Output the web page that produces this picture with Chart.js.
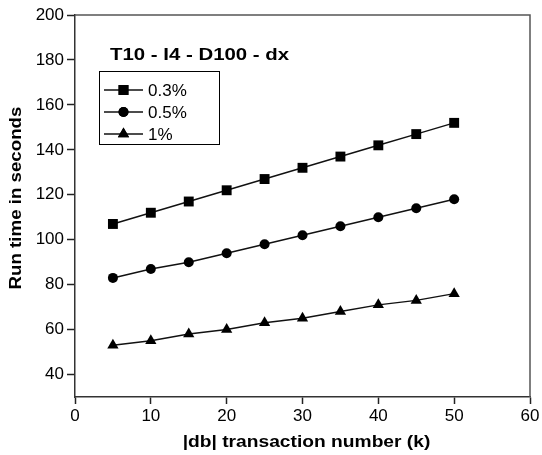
<!DOCTYPE html>
<html lang="en">
<head>
    <meta charset="UTF-8">
    <title>Run time vs transaction number</title>
    <style>
        html, body {
            margin: 0;
            padding: 0;
            background: #fff;
        }
        #wrap {
            position: relative;
            width: 542px;
            height: 455px;
        }
    </style>
    <script src="https://cdn.jsdelivr.net/npm/chart.js"></script>
</head>
<body>

<div id="wrap">
    <canvas id="runtime"></canvas>
</div>

<script>
// transaction number (k)
const xValues = [5, 10, 15, 20, 25, 30, 35, 40, 45, 50];
// run time in seconds per minimum support
const sup03 = [107, 112, 117, 122, 127, 132, 137, 142, 147, 152];
const sup05 = [83, 87, 90, 94, 98, 102, 106, 110, 114, 118];
const sup1 = [53, 55, 58, 60, 63, 65, 68, 71, 73, 76];
const seriesNames = ["0.3%", "0.5%", "1%"];
const yTickValues = [40, 60, 80, 100, 120, 140, 160, 180, 200];

const FONT = "'Liberation Sans', Arial, Helvetica, sans-serif";
const pointShapes = ["rect", "circle", "triangle"];
const pointSizes = [7, 5, 6.5];

function toPoints(values) {
    return values.map((v, i) => ({ x: xValues[i], y: v }));
}

function makeDataset(name, values, idx) {
    return {
        label: name,
        data: toPoints(values),
        borderColor: "#111",
        backgroundColor: "#000",
        borderWidth: 1.5,
        pointStyle: pointShapes[idx],
        pointRadius: pointSizes[idx],
        pointBorderWidth: 0,
        pointBackgroundColor: "#000",
        tension: 0
    };
}

// bold labels in the original are a bit wider than Arial bold, so stretch them
function wideText(ctx, text, x, y, stretch) {
    ctx.save();
    ctx.translate(x, y);
    ctx.scale(stretch, 1);
    ctx.fillText(text, 0, 0);
    ctx.restore();
}

// frame, in-plot title, legend and axis titles
const decorations = {
    id: "decorations",
    afterDraw(chart) {
        const ctx = chart.ctx;
        const a = chart.chartArea;
        ctx.save();

        // top/right frame
        ctx.strokeStyle = "#555";
        ctx.lineWidth = 1.5;
        ctx.beginPath();
        ctx.moveTo(a.left, a.top);
        ctx.lineTo(a.right, a.top);
        ctx.lineTo(a.right, a.bottom);
        ctx.stroke();

        // heading inside the plot
        ctx.fillStyle = "#000";
        ctx.font = "bold 17px " + FONT;
        ctx.textBaseline = "middle";
        ctx.textAlign = "left";
        wideText(ctx, "T10 - I4 - D100 - dx", 110, 55, 1.2);

        // legend box
        ctx.strokeStyle = "#000";
        ctx.lineWidth = 1;
        ctx.strokeRect(99.5, 71.5, 120, 73);
        const rows = [90, 112, 134];
        chart.data.datasets.forEach((ds, i) => {
            const y = rows[i];
            ctx.strokeStyle = "#111";
            ctx.lineWidth = 1.5;
            ctx.beginPath();
            ctx.moveTo(104, y);
            ctx.lineTo(143, y);
            ctx.stroke();
            ctx.fillStyle = "#000";
            Chart.helpers.drawPoint(ctx, {
                pointStyle: ds.pointStyle,
                radius: ds.pointRadius,
                borderWidth: 0
            }, 123.5, y);
            ctx.fill();
            ctx.font = "17px " + FONT;
            ctx.fillText(ds.label, 148, y + 1);
        });

        // axis titles
        ctx.font = "bold 17px " + FONT;
        ctx.textAlign = "center";
        wideText(ctx, "|db| transaction number (k)", 306.5, 442, 1.13);
        ctx.translate(16, 198);
        ctx.rotate(-Math.PI / 2);
        wideText(ctx, "Run time in seconds", 0, 0, 1.1);

        ctx.restore();
    }
};

const ctx = document.getElementById("runtime").getContext("2d");
new Chart(ctx, {
    type: "line",
    data: {
        datasets: [
            makeDataset(seriesNames[0], sup03, 0),
            makeDataset(seriesNames[1], sup05, 1),
            makeDataset(seriesNames[2], sup1, 2)
        ]
    },
    options: {
        responsive: true,
        maintainAspectRatio: false,
        animation: false,
        layout: { padding: { top: 15, right: 12, left: 0, bottom: 0 } },
        plugins: {
            legend: { display: false },
            tooltip: { enabled: false }
        },
        scales: {
            x: {
                type: "linear",
                min: 0,
                max: 60,
                ticks: {
                    stepSize: 10,
                    color: "#000",
                    padding: 2,
                    font: { family: FONT, size: 17 }
                },
                grid: {
                    drawOnChartArea: false,
                    drawTicks: true,
                    tickLength: 7,
                    tickColor: "#222",
                    tickWidth: 1.5
                },
                border: { display: true, color: "#333", width: 1.5 },
                afterFit(scale) { scale.height = 58; }
            },
            y: {
                min: 30,
                max: 200,
                afterBuildTicks(scale) {
                    scale.ticks = yTickValues.map(v => ({ value: v }));
                },
                ticks: {
                    color: "#000",
                    padding: 3,
                    font: { family: FONT, size: 17 }
                },
                grid: {
                    drawOnChartArea: false,
                    drawTicks: true,
                    tickLength: 8,
                    tickColor: "#222",
                    tickWidth: 1.5
                },
                border: { display: true, color: "#333", width: 1.5 },
                afterFit(scale) { scale.width = 75; }
            }
        }
    },
    plugins: [decorations]
});
</script>

</body>
</html>
